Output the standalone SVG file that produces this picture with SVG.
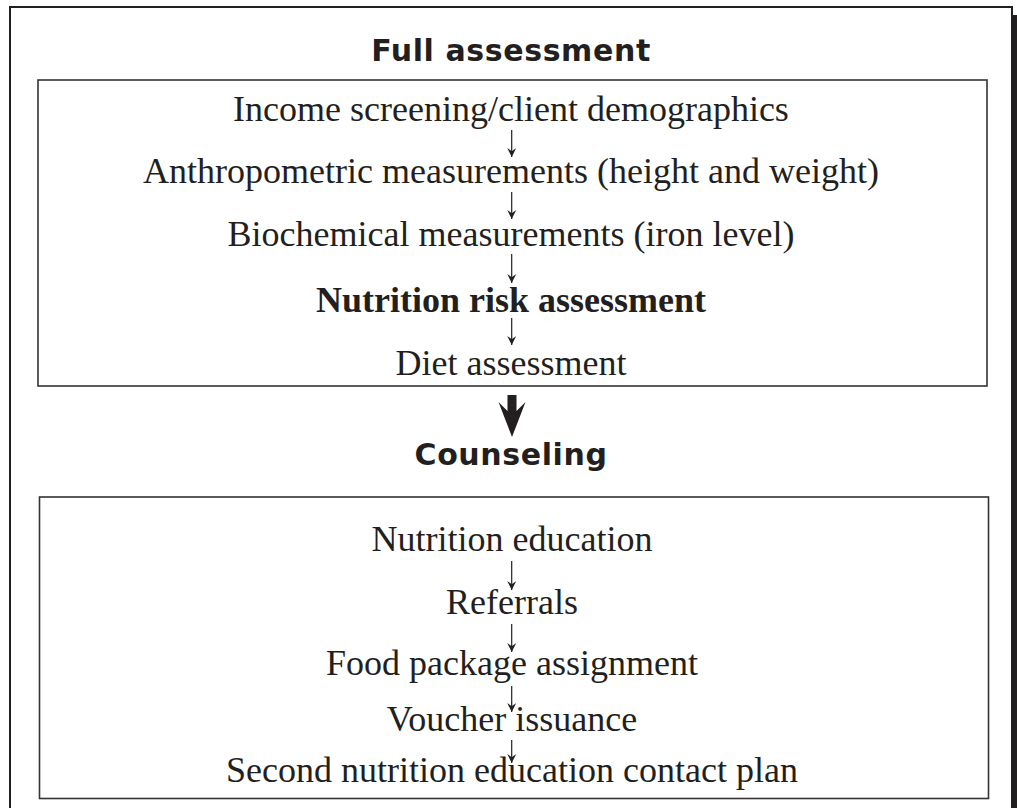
<svg xmlns="http://www.w3.org/2000/svg" width="1017" height="808" viewBox="0 0 1017 808">
<style>
.t{font-family:"Liberation Serif",serif;font-size:36px;fill:#231f20;text-anchor:middle}
.b{font-weight:bold}
.h{font-family:"DejaVu Sans",Verdana,sans-serif;font-weight:bold;font-size:30px;fill:#231f20;text-anchor:middle;letter-spacing:0.6px}
.box{fill:#fff;stroke:#333;stroke-width:1.6}
.ln{stroke:#231f20;stroke-width:1.2;fill:none}
</style>
<defs>
<marker id="av" viewBox="0 0 10 10" refX="5" refY="10" markerWidth="9" markerHeight="10" markerUnits="userSpaceOnUse" orient="0">
<path d="M0,0 L5,3.5 L10,0 L5,10 Z" fill="#231f20"/>
</marker>
</defs>
<rect x="18" y="15" width="1002" height="810" fill="#231f20"/>
<rect x="10" y="7" width="1002" height="810" fill="#fff" stroke="#231f20" stroke-width="2"/>
<g id="title-full"><text class="h" x="511" y="61">Full assessment</text></g>
<g id="box-full"><rect class="box" x="38" y="80" width="949" height="306"/></g>
<g id="n-income"><text class="t" x="511" y="120.5">Income screening/client demographics</text></g>
<g id="n-anthro"><text class="t" x="511" y="183">Anthropometric measurements (height and weight)</text></g>
<g id="n-biochem"><text class="t" x="511" y="246">Biochemical measurements (iron level)</text></g>
<g id="n-risk"><text class="t b" x="511" y="312">Nutrition risk assessment</text></g>
<g id="n-diet"><text class="t" x="511" y="375">Diet assessment</text></g>
<g id="title-counsel"><text class="h" x="511" y="465">Counseling</text></g>
<g id="box-counsel"><rect class="box" x="39.5" y="497" width="949" height="301.5"/></g>
<g id="n-edu"><text class="t" x="512" y="551">Nutrition education</text></g>
<g id="n-ref"><text class="t" x="512" y="614">Referrals</text></g>
<g id="n-food"><text class="t" x="512" y="675">Food package assignment</text></g>
<g id="n-voucher"><text class="t" x="512" y="731">Voucher issuance</text></g>
<g id="n-second"><text class="t" x="512" y="782">Second nutrition education contact plan</text></g>
<g id="connectors">
<line class="ln" x1="511.7" y1="130" x2="511.7" y2="157" marker-end="url(#av)"/>
<line class="ln" x1="511.7" y1="192" x2="511.7" y2="219" marker-end="url(#av)"/>
<line class="ln" x1="511.7" y1="254" x2="511.7" y2="283" marker-end="url(#av)"/>
<line class="ln" x1="511.7" y1="318" x2="511.7" y2="345" marker-end="url(#av)"/>
<polygon points="507.5,395 516.5,395 516.5,411 525.5,402 512,437 498.5,402 507.5,411" fill="#231f20"/>
<line class="ln" x1="511.7" y1="561" x2="511.7" y2="590" marker-end="url(#av)"/>
<line class="ln" x1="511.7" y1="624" x2="511.7" y2="652" marker-end="url(#av)"/>
<line class="ln" x1="511.7" y1="686" x2="511.7" y2="712" marker-end="url(#av)"/>
<line class="ln" x1="511.7" y1="740" x2="511.7" y2="763" marker-end="url(#av)"/>
</g>
</svg>
